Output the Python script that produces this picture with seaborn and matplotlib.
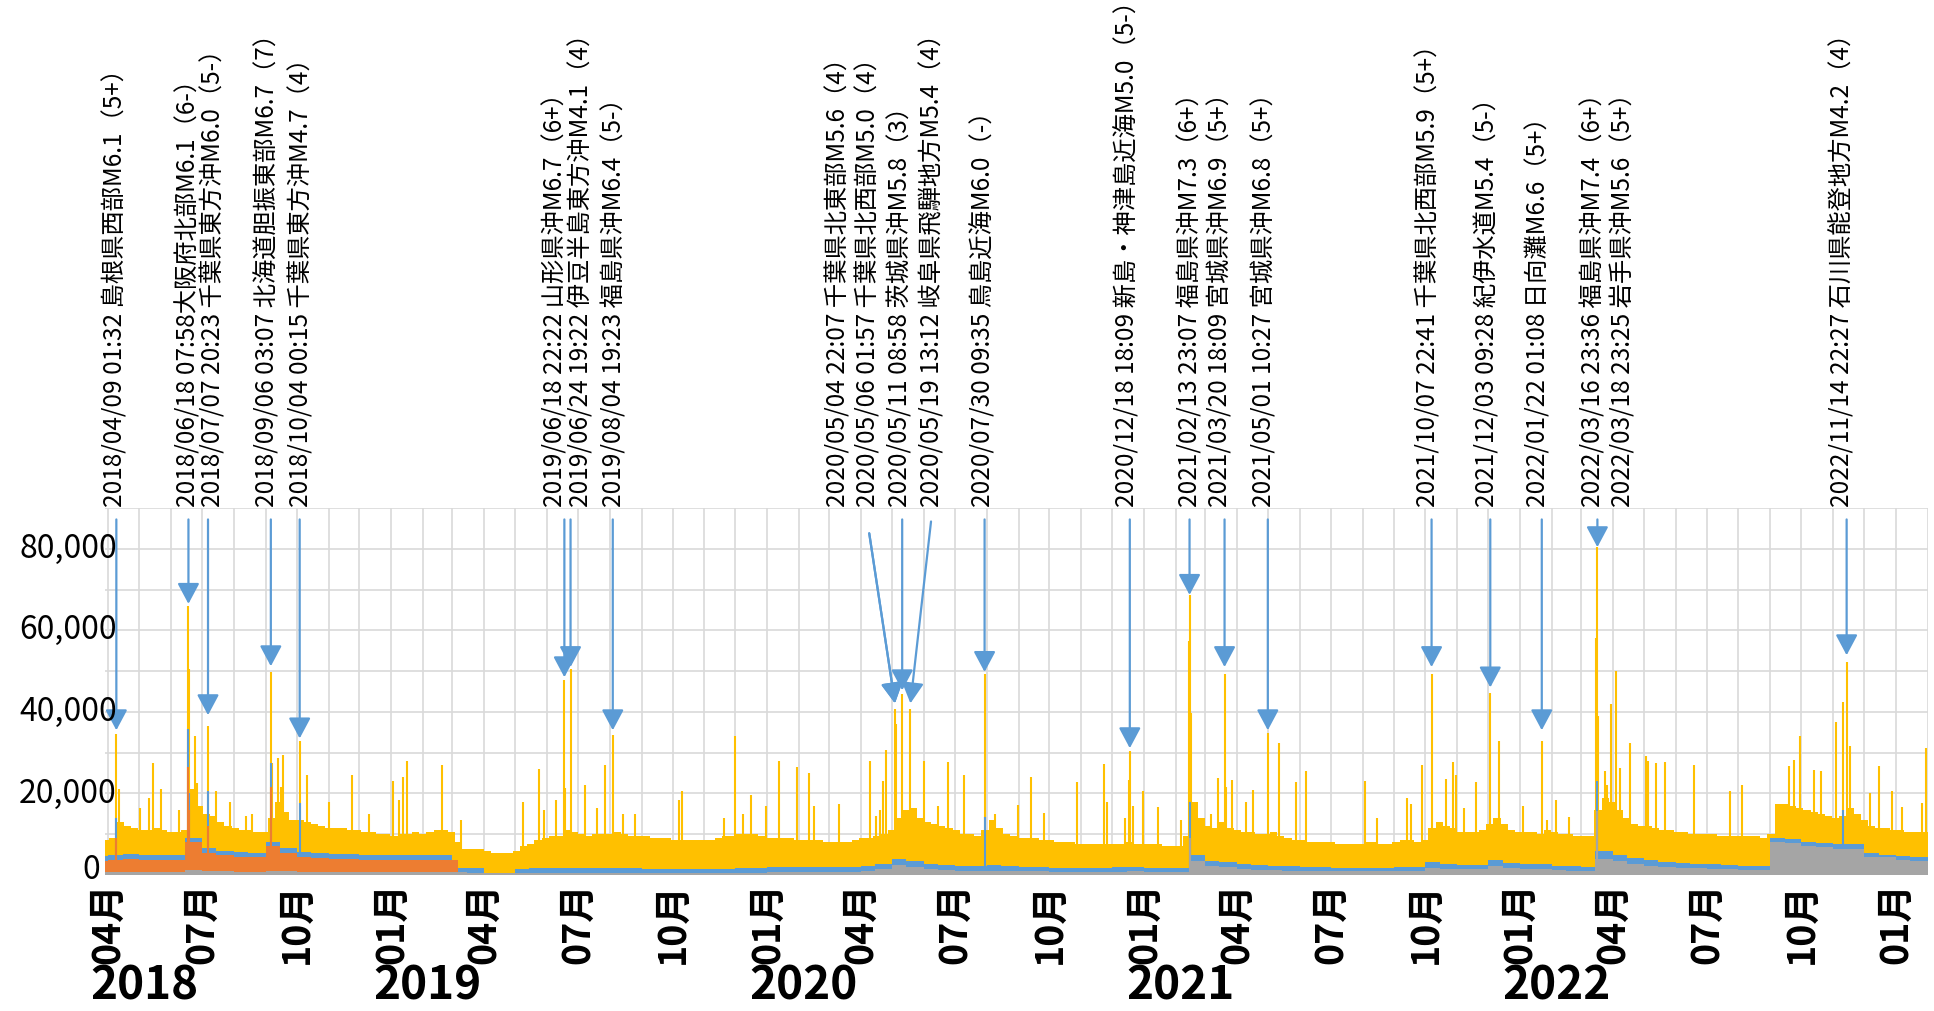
import numpy as np
import pandas as pd
import seaborn as sns
import matplotlib.pyplot as plt
import matplotlib.dates as mdates

# ---- data ----
# weekly level of the stacked total (weeks start on Monday, first week 2018-03-26)
total_2018 = [8500,
              9000, 13000, 12000, 11500, 11000,      # Apr
              11000, 11500, 11000, 10500,            # May
              10500, 11000, 21000, 17000,            # Jun
              15000, 14500, 13000, 12000, 11500,     # Jul
              11000, 11000, 10500, 10500,            # Aug
              14000, 18000, 15500, 13500,            # Sep
              13500, 13000, 12500, 12000, 11500,     # Oct
              11500, 11500, 11000, 11000,            # Nov
              10500, 10500, 10000, 10000, 9500]      # Dec
total_2019 = [10000, 10000, 10500, 10000,
              10500, 11000, 11000, 10500,
              8000, 6500, 6500, 6500,
              6000, 5500, 5500, 5500, 6000,
              7000, 7500, 8500, 9000,
              9500, 9500, 11000, 10500,
              10000, 9500, 10000, 10000, 10000,
              10500, 10000, 9500, 9500,
              9500, 9000, 9000, 9000, 8500,
              8500, 8500, 8500, 8500,
              8500, 9000, 9500, 9500,
              10000, 10000, 10000, 9500, 9000]
total_2020 = [9000, 9000, 9000, 8500,
              8500, 8500, 8500, 8000,
              8000, 8000, 8000, 8500, 9000,
              9000, 9500, 10000, 11000,
              14000, 16000, 16500, 14000,
              13000, 12500, 12000, 11500, 11000,
              10000, 10000, 9500, 11000,
              13500, 11500, 10000, 9500, 9000,
              9000, 9000, 8500, 8500,
              8000, 8000, 8000, 7500,
              7500, 7500, 7500, 7500, 7500,
              7500, 8000, 7500, 7500]
total_2021 = [7500, 7500, 7000, 7000,
              7000, 9500, 18000, 14000,
              12000, 11500, 13000, 11500, 11000,
              10500, 10500, 10000, 10000,
              10500, 9500, 9000, 8500, 8500,
              8000, 8000, 8000, 8000,
              7500, 7500, 7500, 7500,
              8000, 8000, 7500, 7500, 8000,
              8500, 8500, 8000, 8500,
              11500, 13000, 12000, 11500,
              10500, 10500, 10500, 11000, 12500,
              14000, 12500, 11000, 10500]
total_2022 = [10500, 10500, 10000, 11000, 10500,
              10000, 10000, 9500, 9500,
              9500, 16000, 19000, 18000,
              16000, 14000, 12500, 12000,
              12000, 11500, 11000, 11000, 10500,
              10500, 10000, 10000, 10000,
              10000, 9500, 9500, 9500,
              9500, 9500, 9500, 9000, 10000,
              17500, 17500, 17000, 16500,
              16000, 15500, 15000, 14500, 14000,
              14500, 16500, 15000, 13500,
              12000, 11500, 11500, 11000]
total_2023 = [11000, 10500, 10500, 10500]
total_weekly = total_2018 + total_2019 + total_2020 + total_2021 + total_2022 + total_2023

# half-monthly tops of the lower layers (1st and 15th, first value 2018-03-15)
gray_top = [800, 800, 800, 800, 800, 800, 1200, 1000, 900, 800, 800, 900, 900, 800, 800, 800, 800, 800, 800,
            800, 800, 800, 800, 800, 500, 400, 400, 400, 500, 500, 600, 500, 500, 500, 500, 500, 500, 500, 500, 500, 500, 600, 600,
            700, 700, 700, 700, 800, 800, 1000, 1500, 2500, 2000, 1500, 1200, 1000, 1000, 1100, 1000, 900, 900, 800, 800, 800, 800, 800, 900,
            800, 800, 800, 3500, 2200, 2000, 1500, 1300, 1200, 1100, 1000, 1000, 900, 900, 900, 900, 1000, 1000, 1800, 1500, 1400, 1400, 2200, 1700,
            1500, 1400, 1200, 1100, 1000, 4000, 3500, 2800, 2300, 2000, 1800, 1700, 1500, 1400, 1300, 1200, 8000, 7800, 7200, 6800, 6500, 6500, 4500, 4300,
            3800, 3500]
blue_top = [4700, 5000, 5200, 5000, 5000, 5000, 9200, 6700, 6000, 5700, 5500, 8200, 6700, 5700, 5400, 5200, 5200, 5000, 5000,
            5000, 5000, 5000, 5000, 1600, 1600, 400, 400, 1500, 1600, 1600, 1800, 1600, 1600, 1600, 1600, 1500, 1500, 1500, 1500, 1500, 1500, 1600, 1600,
            2000, 2000, 1900, 1900, 2000, 2000, 2300, 2800, 4000, 3500, 2800, 2400, 2200, 2200, 2400, 2200, 2000, 2000, 1800, 1800, 1800, 1800, 1900, 2000,
            1800, 1800, 1800, 5000, 3500, 3300, 2700, 2400, 2300, 2100, 2000, 1900, 1800, 1800, 1800, 1800, 1900, 2000, 3200, 2700, 2500, 2500, 3700, 3000,
            2700, 2600, 2300, 2100, 2000, 5800, 5000, 4200, 3600, 3200, 3000, 2800, 2600, 2400, 2300, 2200, 9000, 8800, 8200, 7800, 7500, 7500, 5300, 5000,
            4600, 4300]
orange_top = [3500, 3800, 4000, 3800, 3800, 3800, 8000, 5500, 4800, 4500, 4300, 7000, 5500, 4500, 4200, 4000, 4000, 3800, 3800,
              3800, 3800, 3800, 3800, 3800]
orange_last_day = '2019-03-07'

# one-day peaks of the total
spike_dates = ['2018-04-09', '2018-04-12', '2018-05-02', '2018-05-11', '2018-05-15', '2018-05-22', '2018-06-09',
               '2018-06-18', '2018-06-19', '2018-06-24', '2018-06-26', '2018-07-07', '2018-07-15', '2018-07-28',
               '2018-08-13', '2018-08-19', '2018-09-06', '2018-09-07', '2018-09-13', '2018-09-16', '2018-09-18',
               '2018-10-04', '2018-10-11', '2018-11-01', '2018-11-24', '2018-12-10',
               '2019-01-03', '2019-01-08', '2019-01-12', '2019-01-16', '2019-02-19', '2019-03-10', '2019-05-09',
               '2019-05-24', '2019-05-29', '2019-06-10', '2019-06-18', '2019-06-19', '2019-06-24', '2019-07-08',
               '2019-07-20', '2019-07-27', '2019-08-04', '2019-08-14', '2019-08-26', '2019-10-07', '2019-10-10',
               '2019-11-20', '2019-12-01', '2019-12-08', '2019-12-16', '2019-12-31',
               '2020-01-12', '2020-01-30', '2020-02-11', '2020-02-15', '2020-03-11', '2020-04-10', '2020-04-16',
               '2020-04-19', '2020-04-22', '2020-04-25', '2020-05-04', '2020-05-05', '2020-05-11', '2020-05-19',
               '2020-06-01', '2020-06-15', '2020-06-24', '2020-07-10', '2020-07-30', '2020-08-09', '2020-08-31',
               '2020-09-13', '2020-09-26', '2020-10-28', '2020-11-23', '2020-11-26', '2020-12-13', '2020-12-17',
               '2020-12-18', '2020-12-21', '2020-12-31',
               '2021-01-14', '2021-02-06', '2021-02-13', '2021-02-14', '2021-02-15', '2021-03-07', '2021-03-14',
               '2021-03-20', '2021-03-21', '2021-03-27', '2021-04-10', '2021-04-17', '2021-05-01', '2021-05-12',
               '2021-05-28', '2021-06-07', '2021-08-03', '2021-08-15', '2021-09-13', '2021-09-17', '2021-09-28',
               '2021-10-07', '2021-10-21', '2021-10-28', '2021-10-31', '2021-11-07', '2021-11-19', '2021-12-03',
               '2021-12-11',
               '2022-01-04', '2022-01-22', '2022-01-27', '2022-02-05', '2022-02-17', '2022-03-16', '2022-03-17',
               '2022-03-18', '2022-03-24', '2022-03-26', '2022-03-30', '2022-04-04', '2022-04-08', '2022-04-18',
               '2022-05-03', '2022-05-05', '2022-05-13', '2022-05-22', '2022-06-19', '2022-07-24', '2022-08-04',
               '2022-09-19', '2022-09-24', '2022-09-30', '2022-10-13', '2022-10-20', '2022-11-04', '2022-11-10',
               '2022-11-14', '2022-11-17', '2022-12-07', '2022-12-15', '2022-12-28',
               '2023-01-07', '2023-01-26', '2023-01-30']
spike_values = [34500, 21000, 16500, 19000, 27500, 21000, 16000,
                66000, 50500, 34000, 22500, 36500, 20500, 18000,
                14500, 15000, 49800, 27500, 28700, 21500, 29500,
                32800, 24500, 18000, 24500, 15000,
                23000, 18500, 24000, 28000, 27000, 13500, 17800,
                26000, 16000, 18500, 47800, 21300, 50500, 22000,
                16500, 27000, 34400, 15000, 15000, 18500, 20500,
                14000, 34000, 15000, 19700, 17000,
                27900, 26600, 25000, 17000, 17500, 27900, 14500,
                16000, 23000, 30600, 40800, 37000, 44300, 40800,
                27900, 17000, 27700, 24600, 49400, 15000, 17200,
                24000, 15300, 22700, 27300, 18000, 14000, 23400,
                30300, 17000, 20500,
                16600, 13500, 57400, 68700, 39800, 15000, 23800,
                49400, 21700, 23400, 18000, 20900, 34900, 32400,
                22700, 25400, 23100, 14000, 18900, 17500, 27000,
                49400, 23500, 27600, 24600, 16400, 22700, 44700,
                32800,
                17000, 32800, 13500, 18500, 14300, 58200, 80400,
                39000, 25400, 22000, 42000, 50000, 26200, 32400,
                29300, 27900, 27500, 27700, 27000, 20500, 22100,
                26700, 28300, 34000, 25800, 25600, 37500, 42400,
                52300, 31600, 20100, 26700, 20500,
                16800, 17600, 31200]

# one-day peaks of the lower layers (tops)
blue_spike_dates = ['2018-04-09', '2018-06-18', '2018-06-19', '2018-07-07', '2018-09-06', '2018-10-04',
                    '2020-07-30', '2021-02-14', '2022-03-17', '2022-11-10']
blue_spike_values = [14000, 35700, 20000, 20500, 27500, 17600, 14300, 18000, 23000, 16000]
orange_spike_dates = ['2018-04-09', '2018-06-18', '2018-06-19', '2018-07-07', '2018-09-06']
orange_spike_values = [9000, 26600, 16000, 12000, 21700]
gray_spike_dates = ['2021-02-14', '2022-03-17']
gray_spike_values = [9000, 15600]

event_labels = [
    "2018/04/09 01:32 島根県西部M6.1（5+）",
    "2018/06/18 07:58大阪府北部M6.1（6-）",
    "2018/07/07 20:23 千葉県東方沖M6.0（5-）",
    "2018/09/06 03:07 北海道胆振東部M6.7（7）",
    "2018/10/04 00:15 千葉県東方沖M4.7（4）",
    "2019/06/18 22:22 山形県沖M6.7（6+）",
    "2019/06/24 19:22 伊豆半島東方沖M4.1（4）",
    "2019/08/04 19:23 福島県沖M6.4（5-）",
    "2020/05/04 22:07 千葉県北東部M5.6（4）",
    "2020/05/06 01:57 千葉県北西部M5.0（4）",
    "2020/05/11 08:58 茨城県沖M5.8（3）",
    "2020/05/19 13:12 岐阜県飛騨地方M5.4（4）",
    "2020/07/30 09:35 鳥島近海M6.0（-）",
    "2020/12/18 18:09 新島・神津島近海M5.0（5-）",
    "2021/02/13 23:07 福島県沖M7.3（6+）",
    "2021/03/20 18:09 宮城県沖M6.9（5+）",
    "2021/05/01 10:27 宮城県沖M6.8（5+）",
    "2021/10/07 22:41 千葉県北西部M5.9（5+）",
    "2021/12/03 09:28 紀伊水道M5.4（5-）",
    "2022/01/22 01:08 日向灘M6.6（5+）",
    "2022/03/16 23:36 福島県沖M7.4（6+）",
    "2022/03/18 23:25 岩手県沖M5.6（5+）",
    "2022/11/14 22:27 石川県能登地方M4.2（4）",
]
# arrow tip for each label (None = no arrow)
arrow_dates = ['2018-04-09', '2018-06-18', '2018-07-07', '2018-09-06', '2018-10-04',
               '2019-06-18', '2019-06-24', '2019-08-04',
               '2020-05-04', '2020-05-04', '2020-05-11', '2020-05-19', '2020-07-30', '2020-12-18',
               '2021-02-14', '2021-03-20', '2021-05-01', '2021-10-07', '2021-12-03',
               '2022-01-22', '2022-03-17', None, '2022-11-14']
arrow_tips = [35500, 66500, 39200, 51200, 33500,
              48500, 51000, 35500,
              42100, 42100, 45300, 42100, 49800, 31100,
              68700, 51000, 35500, 51000, 46000,
              35500, 80400, None, 53900]

ytick_values = [0, 20000, 40000, 60000, 80000]
years = ['2018', '2019', '2020', '2021', '2022']

# ---- layout ----
label_x = ['2018-04-08', '2018-06-18', '2018-07-12', '2018-09-03', '2018-10-06',
           '2019-06-09', '2019-07-05', '2019-08-06',
           '2020-03-10', '2020-04-08', '2020-05-09', '2020-06-09', '2020-07-29', '2020-12-16',
           '2021-02-15', '2021-03-16', '2021-04-28', '2021-10-04', '2021-11-30',
           '2022-01-19', '2022-03-13', '2022-04-11', '2022-11-10']
# slanted arrows in the May 2020 group: label index -> (start date, start value)
arrow_starts = {8: ('2020-04-09', 83800), 9: ('2020-04-09', 83800), 11: ('2020-06-08', 86700)}
ARROW_TOP = 87200

YELLOW, BLUE, ORANGE, GRAY, GRID = '#FFC000', '#5B9BD5', '#ED7D31', '#A5A5A5', '#D9D9D9'

sns.set_theme(style='whitegrid')
plt.rcParams['font.family'] = ['Noto Sans CJK JP', 'DejaVu Sans']

fig = plt.figure(figsize=(19.34, 10.11), dpi=100)
ax = fig.add_axes([0.0543, 0.1345, 0.9426, 0.3630])
x_start, x_end = pd.Timestamp('2018-03-29'), pd.Timestamp('2023-02-01')

weeks = pd.date_range('2018-03-26', periods=len(total_weekly), freq='W-MON')
halves = pd.date_range('2018-03-15', periods=len(gray_top), freq='SMS')
assert len(blue_top) == len(gray_top), (len(blue_top), len(gray_top))
assert len(spike_dates) == len(spike_values)


def step_area(dates, values, end, color, z):
    xs = dates.append(pd.DatetimeIndex([pd.Timestamp(end)]))
    ys = np.append(np.asarray(values, dtype=float), values[-1])
    ax.fill_between(xs, 0, ys, step='post', color=color, linewidth=0, zorder=z)


step_area(weeks, total_weekly, x_end, YELLOW, 2)
ax.vlines(pd.to_datetime(spike_dates), 0, spike_values, color=YELLOW, lw=1.5, zorder=2)
step_area(halves, blue_top, x_end, BLUE, 3)
ax.vlines(pd.to_datetime(blue_spike_dates), 0, blue_spike_values, color=BLUE, lw=1.5, zorder=3)
step_area(halves[:len(orange_top)], orange_top, orange_last_day, ORANGE, 4)
ax.vlines(pd.to_datetime(orange_spike_dates), 0, orange_spike_values, color=ORANGE, lw=1.5, zorder=4)
step_area(halves, gray_top, x_end, GRAY, 5)
ax.vlines(pd.to_datetime(gray_spike_dates), 0, gray_spike_values, color=GRAY, lw=1.5, zorder=5)

ax.set_xlim(x_start, x_end)
ax.set_ylim(0, 90000)
ax.set_axisbelow(True)

quarters = pd.date_range('2018-04-01', '2023-01-01', freq='QS-JAN')
ax.set_xticks(quarters, labels=[d.strftime('%m月') for d in quarters],
              rotation=90, fontsize=27, fontweight='bold')
ax.xaxis.set_minor_locator(mdates.MonthLocator())
ax.set_yticks(range(0, 90001, 10000))
ax.tick_params(axis='y', labelleft=False)
ax.tick_params(which='both', length=0)
ax.tick_params(axis='x', pad=5, colors='black')
ax.grid(which='both', color=GRID, linewidth=1.2)
for s in ax.spines.values():
    s.set_visible(False)

for v in ytick_values:
    dx, dy = (8.5, 0) if v else (-3.5, 3.5)
    ax.annotate(f'{v:,}', xy=(0, v), xycoords=('axes fraction', 'data'),
                xytext=(dx, dy), textcoords='offset points',
                ha='right', va='center', fontsize=23, color='black', zorder=7)

# year labels sit under the first month shown for each year
for y, first in zip(years, [quarters[0]] + [pd.Timestamp(f'{y}-01-01') for y in years[1:]]):
    ax.annotate(y, xy=(first + pd.Timedelta(days=35), 0.0015), xycoords=('data', 'figure fraction'),
                ha='center', va='bottom', fontsize=33, fontweight='bold', color='black',
                annotation_clip=False)

for i, text in enumerate(event_labels):
    ax.annotate(text, xy=(pd.Timestamp(label_x[i]), 1.0), xycoords=('data', 'axes fraction'),
                xytext=(0, 1), textcoords='offset points',
                rotation=90, ha='center', va='bottom', fontsize=17.5, color='black',
                annotation_clip=False)
    if arrow_dates[i] is None:
        continue
    start = arrow_starts.get(i, (arrow_dates[i], ARROW_TOP))
    ax.annotate('', xy=(pd.Timestamp(arrow_dates[i]), arrow_tips[i]),
                xytext=(pd.Timestamp(start[0]), start[1]),
                arrowprops=dict(arrowstyle='-|>,head_length=0.6,head_width=0.32', mutation_scale=21,
                                color=BLUE, lw=1.6, shrinkA=0, shrinkB=0),
                zorder=6, annotation_clip=False)

fig.savefig('out.png', dpi=100, facecolor='white')
